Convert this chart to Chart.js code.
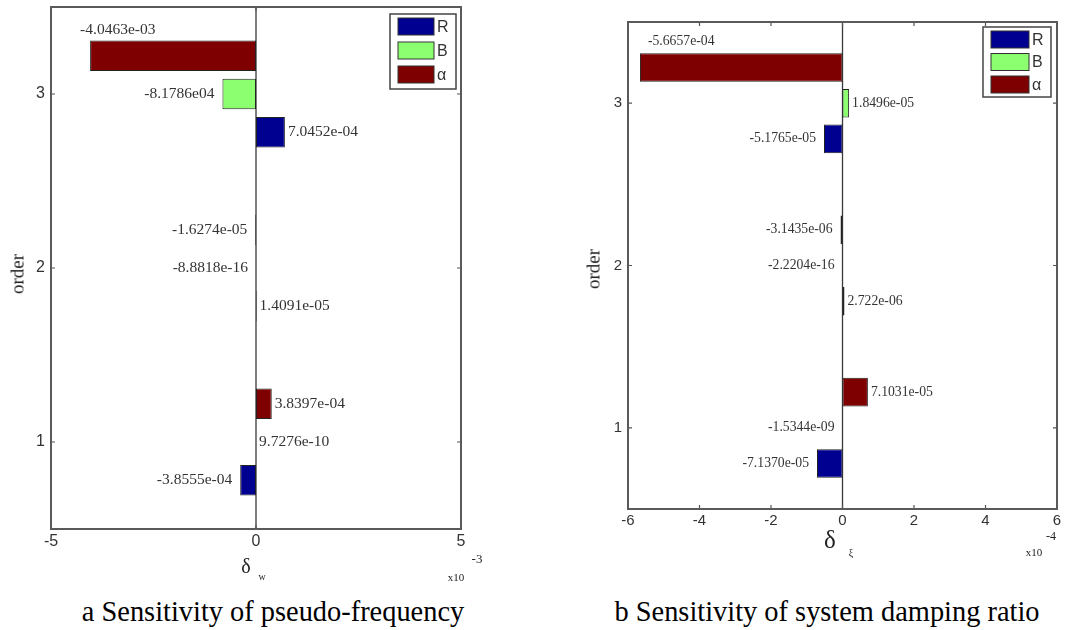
<!DOCTYPE html>
<html>
<head>
<meta charset="utf-8">
<script src="https://cdn.jsdelivr.net/npm/chart.js@4.4.1/dist/chart.umd.min.js"></script>
<style>
    body { margin: 0; background: #fff; width: 1081px; height: 630px; position: relative; overflow: hidden; font-family: "Liberation Serif", serif; }
    .panel { position: absolute; top: 0; height: 560px; }
    .txt { position: absolute; white-space: nowrap; color: #222; transform: translate(-50%, -50%); line-height: 1; }
</style>
</head>
<body>
<div class="panel" style="left:0;width:540px"><canvas id="freqChart"></canvas></div>
<div class="panel" style="left:540px;width:541px"><canvas id="dampChart"></canvas></div>

<!-- axis titles and captions -->
<div class="txt" style="left:17px;top:274px;font-size:19px;transform:translate(-50%,-50%) rotate(-90deg)">order</div>
<div class="txt" style="left:246px;top:566px;font-size:20px">δ</div>
<div class="txt" style="left:262px;top:577px;font-size:10px">w</div>
<div class="txt" style="left:456px;top:577px;font-size:11px">x10</div>
<div class="txt" style="left:477px;top:558px;font-size:13px">-3</div>
<div class="txt" style="left:273px;top:612px;font-size:28.4px;color:#000">a Sensitivity of pseudo-frequency</div>

<div class="txt" style="left:593px;top:269px;font-size:19px;transform:translate(-50%,-50%) rotate(-90deg)">order</div>
<div class="txt" style="left:830px;top:539px;font-size:25px">δ</div>
<div class="txt" style="left:851px;top:553px;font-size:10px">ξ</div>
<div class="txt" style="left:1034px;top:552px;font-size:11px">x10</div>
<div class="txt" style="left:1051px;top:536px;font-size:12px">-4</div>
<div class="txt" style="left:827px;top:612px;font-size:28.4px;color:#000">b Sensitivity of system damping ratio</div>

<script>
// Sensitivity bar charts (two panels)

const orders = ['1', '2', '3'];
const seriesNames = ['R', 'B', 'α'];
const seriesColors = ['#000090', '#8cff70', '#7f0000'];

// panel a: pseudo-frequency sensitivity (δw)
const freqR = [-3.8555e-4, 1.4091e-5, 7.0452e-4];
const freqB = [9.7276e-10, -8.8818e-16, -8.1786e-4];
const freqAlpha = [3.8397e-4, -1.6274e-5, -4.0463e-3];
const freqTextR = ['-3.8555e-04', '1.4091e-05', '7.0452e-04'];
const freqTextB = ['9.7276e-10', '-8.8818e-16', '-8.1786e04'];
const freqTextAlpha = ['3.8397e-04', '-1.6274e-05', '-4.0463e-03'];
const freqTicks = [-5, 0, 5];      // x10^-3
const freqExp = 1e-3;

// panel b: damping ratio sensitivity (δξ)
const dampR = [-7.1370e-5, 2.722e-6, -5.1765e-5];
const dampB = [-1.5344e-9, -2.2204e-16, 1.8496e-5];
const dampAlpha = [7.1031e-5, -3.1435e-6, -5.6657e-4];
const dampTextR = ['-7.1370e-05', '2.722e-06', '-5.1765e-05'];
const dampTextB = ['-1.5344e-09', '-2.2204e-16', '1.8496e-05'];
const dampTextAlpha = ['7.1031e-05', '-3.1435e-06', '-5.6657e-04'];
const dampTicks = [-6, -4, -2, 0, 2, 4, 6];   // x10^-4
const dampExp = 1e-4;

// frame, inward ticks and zero line (MATLAB style box)
const boxFrame = {
    id: 'boxFrame',
    beforeDatasetsDraw(chart) {
        const { ctx, chartArea: a, scales: { x } } = chart;
        const zx = x.getPixelForValue(0);
        ctx.save();
        ctx.strokeStyle = '#3a3a3a';
        ctx.lineWidth = 1.3;
        ctx.beginPath();
        ctx.moveTo(zx, a.top);
        ctx.lineTo(zx, a.bottom);
        ctx.stroke();
        ctx.restore();
    },
    afterDatasetsDraw(chart) {
        const { ctx, chartArea: a, scales: { x, y } } = chart;
        const t = 4;
        ctx.save();
        ctx.strokeStyle = '#555';
        ctx.lineWidth = 1.2;
        ctx.beginPath();
        x.ticks.forEach(tk => {
            const px = x.getPixelForValue(tk.value);
            ctx.moveTo(px, a.top); ctx.lineTo(px, a.top + t);
            ctx.moveTo(px, a.bottom); ctx.lineTo(px, a.bottom - t);
        });
        y.ticks.forEach((tk, i) => {
            const py = y.getPixelForTick(i);
            ctx.moveTo(a.left, py); ctx.lineTo(a.left + t, py);
            ctx.moveTo(a.right, py); ctx.lineTo(a.right - t, py);
        });
        ctx.stroke();
        ctx.lineWidth = 2;
        ctx.strokeStyle = '#5a5a5a';
        ctx.strokeRect(a.left, a.top, a.right - a.left, a.bottom - a.top);
        ctx.restore();
    }
};

// value text next to each bar
const barLabels = {
    id: 'barLabels',
    afterDatasetsDraw(chart, args, opts) {
        const { ctx, chartArea: a } = chart;
        ctx.save();
        ctx.font = opts.size + 'px "Liberation Serif", serif';
        ctx.fillStyle = '#333';
        ctx.textBaseline = 'middle';
        chart.data.datasets.forEach((ds, di) => {
            const meta = chart.getDatasetMeta(di);
            meta.data.forEach((bar, i) => {
                const text = ds.valueText[i];
                const p = bar.getProps(['x', 'y', 'base', 'height'], true);
                const w = ctx.measureText(text).width;
                let x, y = p.y;
                if (ds.data[i] < 0) {
                    x = Math.min(p.x, p.base) - 8;
                    ctx.textAlign = 'right';
                    if (x - w < a.left + 4) {
                        // no room on the left: put it above the bar
                        x = Math.min(p.x, p.base) + opts.aboveShift;
                        y = p.y - p.height / 2 - opts.aboveGap;
                        ctx.textAlign = 'left';
                    }
                } else {
                    x = Math.max(p.x, p.base) + 3;
                    ctx.textAlign = 'left';
                }
                ctx.fillText(text, x, y);
            });
        });
        ctx.restore();
    }
};

// boxed legend in the top right corner
const boxLegend = {
    id: 'boxLegend',
    afterDraw(chart, args, opts) {
        const { ctx, chartArea: a } = chart;
        const items = chart.data.datasets.slice().reverse();
        const left = a.right - opts.rightGap - opts.width;
        const top = a.top + opts.topGap;
        ctx.save();
        ctx.fillStyle = '#fff';
        ctx.fillRect(left, top, opts.width, opts.height);
        ctx.strokeStyle = '#444';
        ctx.lineWidth = 1.5;
        ctx.strokeRect(left, top, opts.width, opts.height);
        ctx.font = opts.size + 'px "Liberation Sans", Arial, sans-serif';
        ctx.textBaseline = 'middle';
        items.forEach((ds, i) => {
            const sy = top + opts.first + i * opts.pitch;
            ctx.fillStyle = ds.backgroundColor;
            ctx.fillRect(left + 8, sy, opts.swatchW, opts.swatchH);
            ctx.strokeStyle = '#333';
            ctx.lineWidth = 1;
            ctx.strokeRect(left + 8, sy, opts.swatchW, opts.swatchH);
            ctx.fillStyle = '#333';
            ctx.fillText(ds.label, left + 8 + opts.swatchW + 3, sy + opts.swatchH / 2 + 1);
        });
        ctx.restore();
    }
};

function makeDatasets(r, b, alpha, textR, textB, textAlpha, minLen) {
    // alpha first so it sits at the top of each group
    return [
        { label: seriesNames[2], data: alpha, valueText: textAlpha, backgroundColor: seriesColors[2], minBarLength: minLen },
        { label: seriesNames[1], data: b, valueText: textB, backgroundColor: seriesColors[1], minBarLength: 0 },
        { label: seriesNames[0], data: r, valueText: textR, backgroundColor: seriesColors[0], minBarLength: minLen }
    ];
}

function buildChart(id, datasets, ticks, exp, layoutOpts, fontSize, labelOpts, legendOpts) {
    const ctx = document.getElementById(id).getContext('2d');
    return new Chart(ctx, {
        type: 'bar',
        data: { labels: orders, datasets: datasets },
        options: {
            indexAxis: 'y',
            responsive: true,
            maintainAspectRatio: false,
            animation: false,
            layout: { padding: { top: layoutOpts.top, right: layoutOpts.right, left: 0, bottom: 0 } },
            datasets: {
                bar: {
                    categoryPercentage: 0.66,
                    barPercentage: 0.8,
                    borderColor: '#222',
                    borderWidth: 1,
                    borderSkipped: false
                }
            },
            plugins: {
                legend: { display: false },
                tooltip: { enabled: false },
                barLabels: labelOpts,
                boxLegend: legendOpts
            },
            scales: {
                x: {
                    type: 'linear',
                    min: ticks[0] * exp,
                    max: ticks[ticks.length - 1] * exp,
                    afterBuildTicks: function(scale) {
                        scale.ticks = ticks.map(v => ({ value: v * exp }));
                    },
                    afterFit: function(scale) {
                        scale.height = layoutOpts.xHeight;
                        scale.paddingLeft = 0;
                        scale.paddingRight = 0;
                    },
                    grid: { display: false, drawTicks: false },
                    border: { display: false },
                    ticks: {
                        padding: 3,
                        color: '#333',
                        font: { family: '"Liberation Sans", Arial, sans-serif', size: fontSize },
                        callback: function(value) { return Math.round(value / exp); }
                    }
                },
                y: {
                    type: 'category',
                    reverse: true,
                    offset: true,
                    afterFit: function(scale) {
                        scale.width = layoutOpts.yWidth;
                        scale.paddingTop = 0;
                        scale.paddingBottom = 0;
                    },
                    grid: { display: false, drawTicks: false },
                    border: { display: false },
                    ticks: {
                        padding: 6,
                        color: '#333',
                        font: { family: '"Liberation Sans", Arial, sans-serif', size: fontSize }
                    }
                }
            }
        },
        plugins: [boxFrame, barLabels, boxLegend]
    });
}

buildChart('freqChart',
    makeDatasets(freqR, freqB, freqAlpha, freqTextR, freqTextB, freqTextAlpha, 0),
    freqTicks, freqExp,
    { top: 7, right: 79, yWidth: 51, xHeight: 31 },
    16,
    { size: 15.5, aboveShift: -10, aboveGap: 10 },
    { width: 66, height: 75, rightGap: 5, topGap: 7, first: 4, pitch: 24, swatchW: 36, swatchH: 17, size: 16 });

buildChart('dampChart',
    makeDatasets(dampR, dampB, dampAlpha, dampTextR, dampTextB, dampTextAlpha, 2),
    dampTicks, dampExp,
    { top: 22, right: 24, yWidth: 88, xHeight: 51 },
    15,
    { size: 13.7, aboveShift: 8, aboveGap: 12 },
    { width: 68, height: 70, rightGap: 6, topGap: 5, first: 4, pitch: 22.5, swatchW: 38, swatchH: 17, size: 16 });
</script>
</body>
</html>
